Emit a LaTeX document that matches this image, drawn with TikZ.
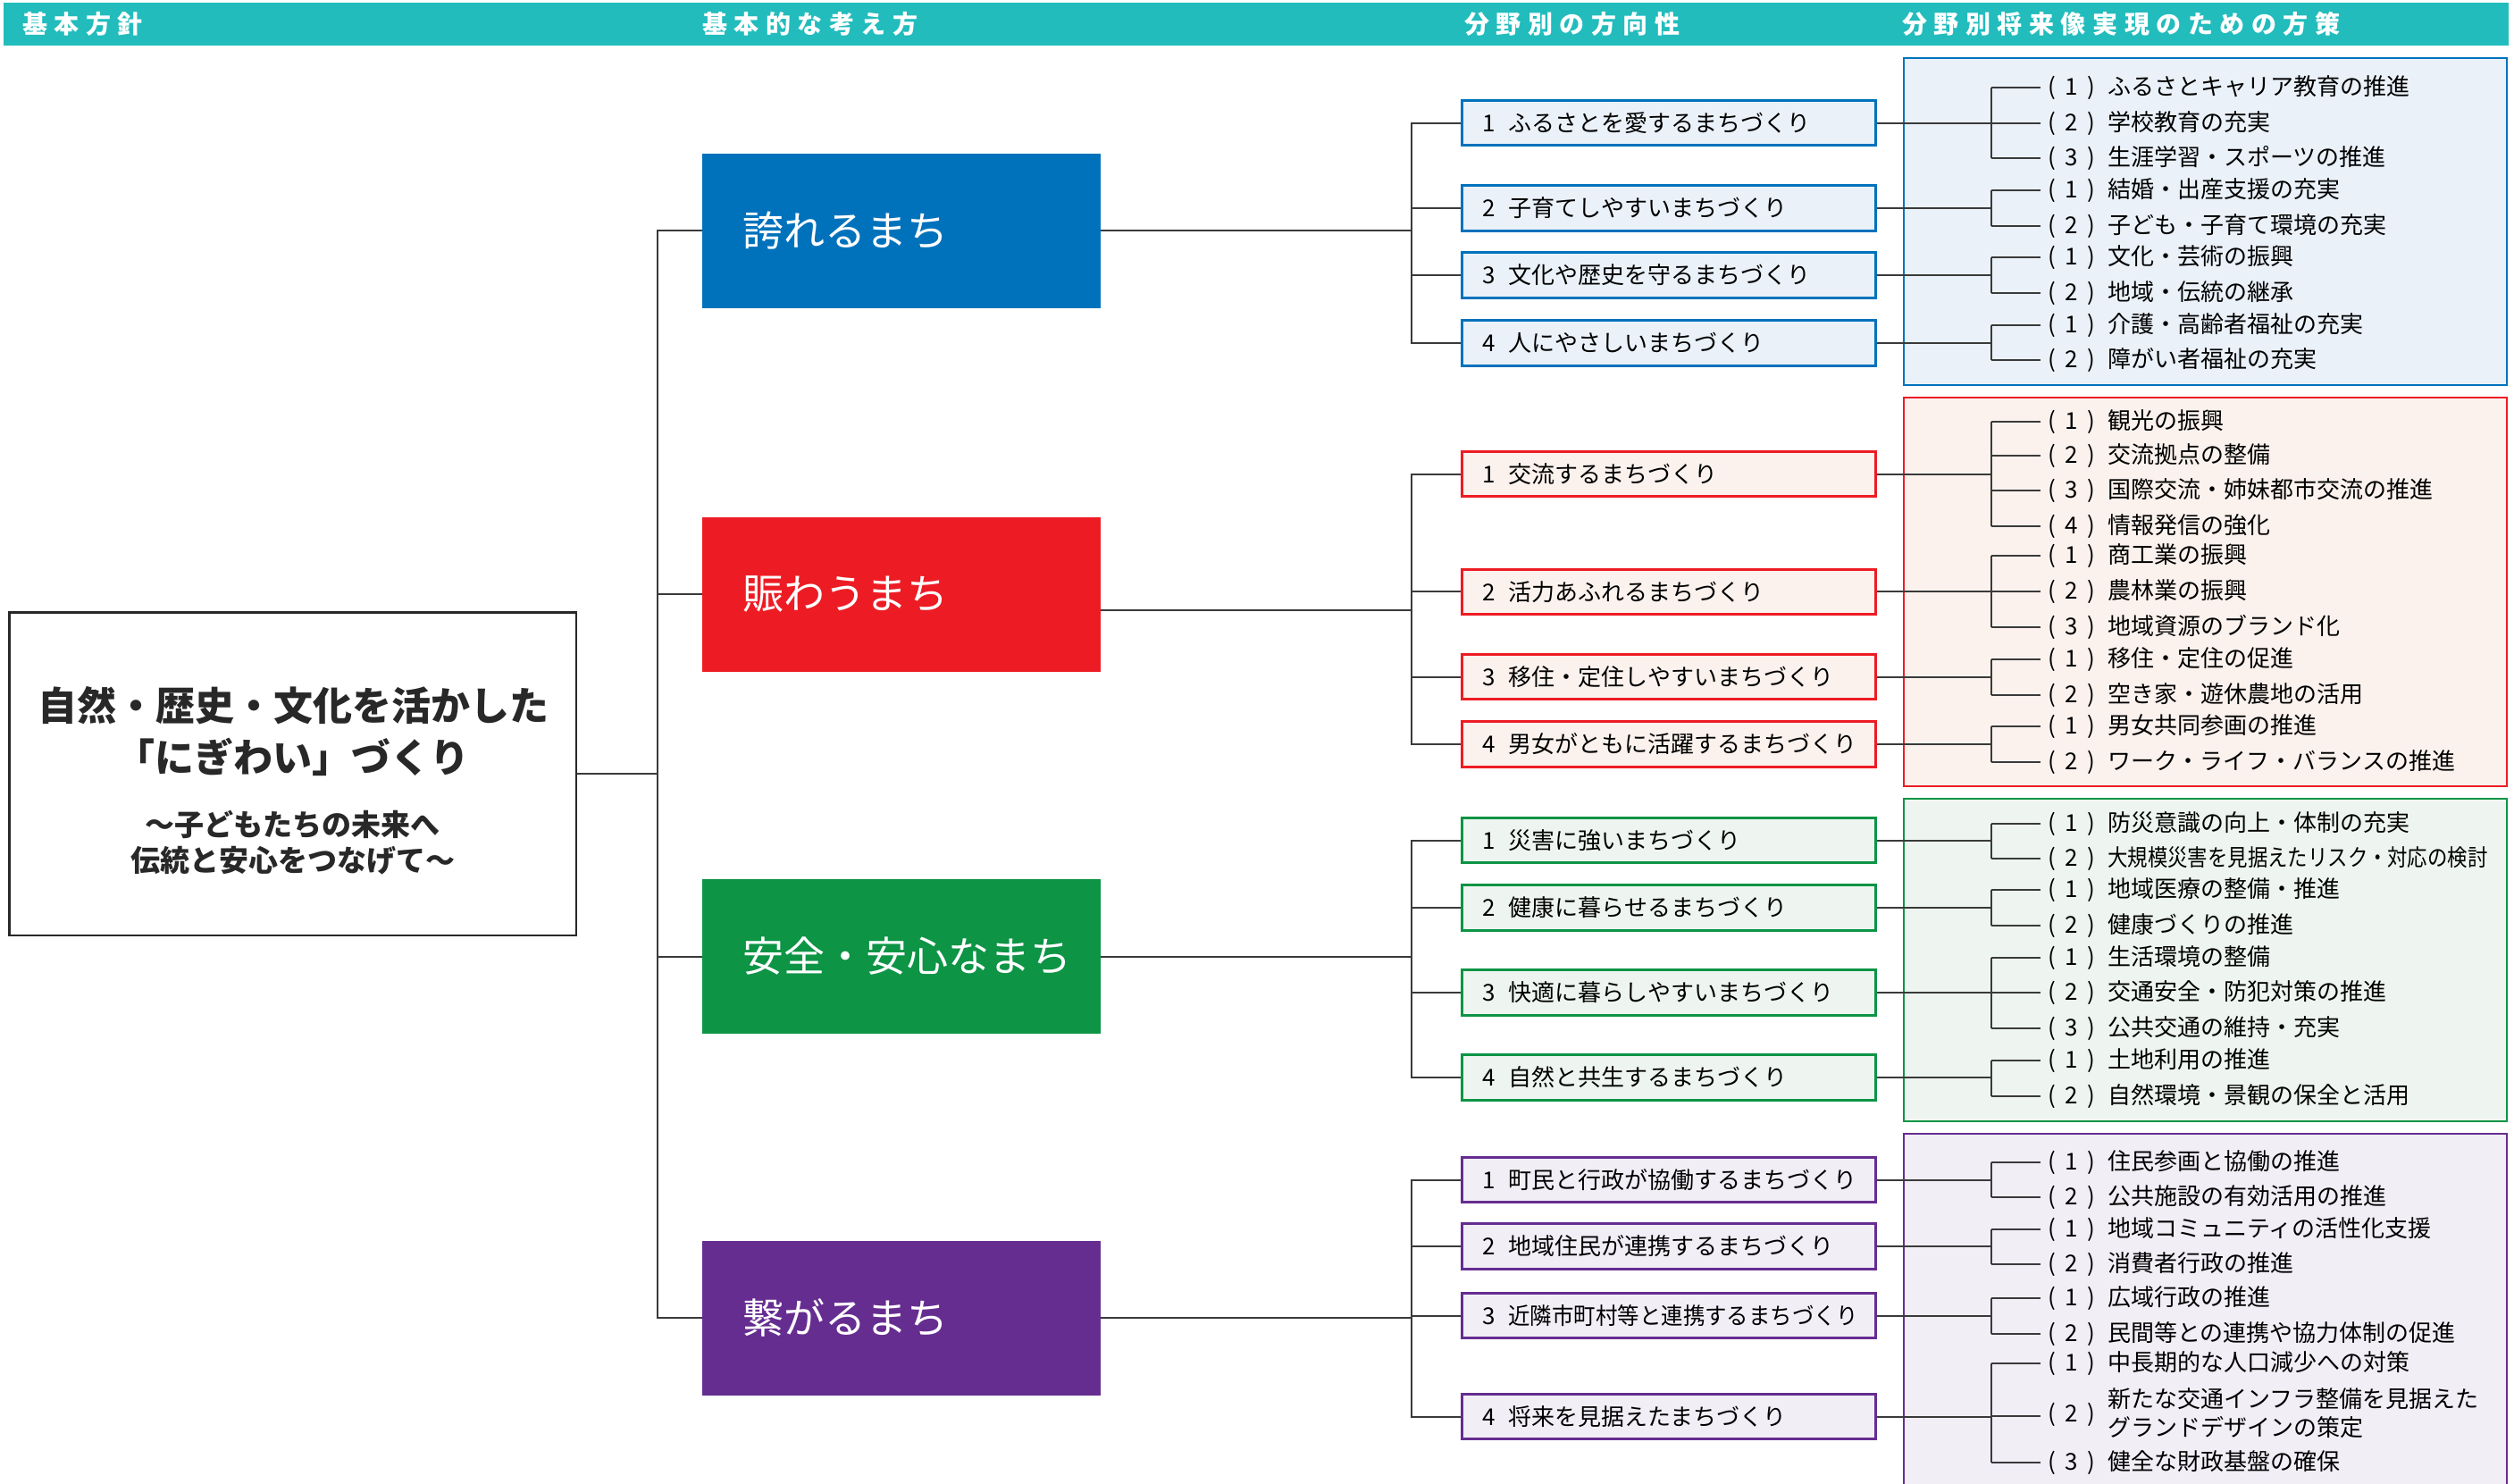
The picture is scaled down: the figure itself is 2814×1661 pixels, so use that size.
\documentclass[tikz,border=0pt]{standalone}
\usepackage{fontspec}
\setmainfont{Noto Sans CJK JP}
\newfontfamily\hdrfont[LetterSpace=27]{Noto Sans CJK JP}
\newcommand\pnum[1]{\makebox[67pt][l]{\makebox[53pt][s]{(\hfil#1\hfil)}}}
\newcommand\cnum[1]{\makebox[29.5pt][l]{#1}}
\definecolor{hdrc}{RGB}{34,188,189}
\definecolor{cB}{RGB}{0,114,188}
\definecolor{cBf}{RGB}{234,241,249}
\definecolor{cR}{RGB}{237,28,36}
\definecolor{cRf}{RGB}{251,242,238}
\definecolor{cG}{RGB}{13,148,69}
\definecolor{cGf}{RGB}{238,245,240}
\definecolor{cP}{RGB}{102,45,145}
\definecolor{cPf}{RGB}{241,238,246}
\definecolor{linec}{RGB}{58,58,58}
\definecolor{mainc}{RGB}{40,40,40}
\newcommand\mybrk[4]{%
  \draw[ln] (#1.east) -- (#1.east -| bx);
  \draw[ln] (#2.west -| bx) -- (#3.west -| bx);
  \foreach \k in {#4} {\draw[ln] (\k.west -| sx) -- (\k.west -| bx);}
}
\newcommand\myjn[4]{%
  \draw[ln] (#1.west) -| (jx |- #4.west) -- (#4.west);
  \draw[ln] (#2.west) -- (#2.west -| jx);
  \draw[ln] (#3.west) -- (#3.west -| jx);
}
\begin{document}
\begin{tikzpicture}[x=1pt,y=-1pt,
  ln/.style={draw=linec,line width=2pt},
  hdr/.style={anchor=west,inner sep=0pt,text=white,font=\hdrfont\bfseries\fontsize{28}{28}\selectfont},
  pnl/.style={draw=c#1,fill=c#1f,line width=2.5pt},
  big/.style={fill=c#1,minimum width=446pt,minimum height=173pt,inner xsep=45pt,inner ysep=0pt,text=white,font=\fontsize{46}{46}\selectfont},
  cat/.style={draw=c#1,fill=c#1f,line width=3pt,minimum height=50.5pt,inner xsep=22.5pt,inner ysep=0pt,anchor=west,font=\fontsize{26}{30}\selectfont},
  item/.style={anchor=west,inner sep=0pt,font=\fontsize{26}{30}\selectfont},
  ttl/.style={inner sep=0pt,font=\bfseries\fontsize{44}{44}\selectfont,text=mainc},
  sub/.style={inner sep=0pt,font=\bfseries\fontsize{33}{33}\selectfont,text=mainc}
]
\useasboundingbox (0,0) rectangle (2814,1661);
\clip (0,0) rectangle (2814,1661);
\fill[white] (0,0) rectangle (2814,1661);

% header
\fill[hdrc] (4,3) rectangle (2808,51);
\node[hdr] (h1) at (25,27) {基本方針};
\node[hdr] (h2) at (786,27) {基本的な考え方};
\node[hdr] (h3) at (1639,27) {分野別の方向性};
\node[hdr] (h4) at (2129,27) {分野別将来像実現のための方策};

% panels
\draw[pnl=B] (2131,65) rectangle (2806,431);
\draw[pnl=R] (2131,445) rectangle (2806,880);
\draw[pnl=G] (2131,894) rectangle (2806,1255);
\draw[pnl=P] (2131,1269) rectangle (2806,1720);

% main box
\node[draw=mainc,line width=2.5pt,minimum width=634.5pt,minimum height=361.5pt,inner sep=0pt] (main) at (327.5,866) {};
\node[ttl] (t1) at (328,790) {自然・歴史・文化を活かした};
\node[ttl] (t2) at (327.5,847) {「にぎわい」づくり};
\node[sub] (t3) at (327.5,923) {〜子どもたちの未来へ};
\node[sub] (t4) at (327.5,963) {伝統と安心をつなげて〜};

% big coloured boxes
\node[big=B] (pride) at (1009,258.5) {\makebox[356pt][l]{誇れるまち}};
\node[big=R] (nigi) at (1009,665) {\makebox[356pt][l]{賑わうまち}};
\node[big=G] (safe) at (1009,1070.5) {\makebox[356pt][l]{安全・安心なまち}};
\node[big=P] (tsuna) at (1009,1475) {\makebox[356pt][l]{繋がるまち}};

% category boxes
\node[cat=B] (b1) at (1635,137.7) {\makebox[418pt][l]{\cnum{1}ふるさとを愛するまちづくり}};
\node[cat=B] (b2) at (1635,233) {\makebox[418pt][l]{\cnum{2}子育てしやすいまちづくり}};
\node[cat=B] (b3) at (1635,308) {\makebox[418pt][l]{\cnum{3}文化や歴史を守るまちづくり}};
\node[cat=B] (b4) at (1635,384) {\makebox[418pt][l]{\cnum{4}人にやさしいまちづくり}};
\node[cat=R] (r1) at (1635,530.5) {\makebox[418pt][l]{\cnum{1}交流するまちづくり}};
\node[cat=R] (r2) at (1635,662.3) {\makebox[418pt][l]{\cnum{2}活力あふれるまちづくり}};
\node[cat=R] (r3) at (1635,757.5) {\makebox[418pt][l]{\cnum{3}移住・定住しやすいまちづくり}};
\node[cat=R] (r4) at (1635,833) {\makebox[418pt][l]{\cnum{4}男女がともに活躍するまちづくり}};
\node[cat=G] (g1) at (1635,940.5) {\makebox[418pt][l]{\cnum{1}災害に強いまちづくり}};
\node[cat=G] (g2) at (1635,1016) {\makebox[418pt][l]{\cnum{2}健康に暮らせるまちづくり}};
\node[cat=G] (g3) at (1635,1111) {\makebox[418pt][l]{\cnum{3}快適に暮らしやすいまちづくり}};
\node[cat=G] (g4) at (1635,1206) {\makebox[418pt][l]{\cnum{4}自然と共生するまちづくり}};
\node[cat=P] (p1) at (1635,1320.5) {\makebox[418pt][l]{\cnum{1}町民と行政が協働するまちづくり}};
\node[cat=P] (p2) at (1635,1395) {\makebox[418pt][l]{\cnum{2}地域住民が連携するまちづくり}};
\node[cat=P] (p3) at (1635,1472.5) {\makebox[418pt][l]{\cnum{3}\scalebox{0.94}[1]{近隣市町村等と連携するまちづくり}}};
\node[cat=P] (p4) at (1635,1585.5) {\makebox[418pt][l]{\cnum{4}将来を見据えたまちづくり}};

% items: blue
\node[item] (ib11) at (2292,98.3) {\pnum{1}ふるさとキャリア教育の推進};
\node[item] (ib12) at (2292,137.7) {\pnum{2}学校教育の充実};
\node[item] (ib13) at (2292,177.3) {\pnum{3}生涯学習・スポーツの推進};
\node[item] (ib21) at (2292,213.3) {\pnum{1}結婚・出産支援の充実};
\node[item] (ib22) at (2292,252.7) {\pnum{2}子ども・子育て環境の充実};
\node[item] (ib31) at (2292,288.3) {\pnum{1}文化・芸術の振興};
\node[item] (ib32) at (2292,327.7) {\pnum{2}地域・伝統の継承};
\node[item] (ib41) at (2292,364) {\pnum{1}介護・高齢者福祉の充実};
\node[item] (ib42) at (2292,403.3) {\pnum{2}障がい者福祉の充実};
% items: red
\node[item] (ir11) at (2292,471.7) {\pnum{1}観光の振興};
\node[item] (ir12) at (2292,510) {\pnum{2}交流拠点の整備};
\node[item] (ir13) at (2292,549) {\pnum{3}国際交流・姉妹都市交流の推進};
\node[item] (ir14) at (2292,588.7) {\pnum{4}情報発信の強化};
\node[item] (ir21) at (2292,622.3) {\pnum{1}商工業の振興};
\node[item] (ir22) at (2292,662) {\pnum{2}農林業の振興};
\node[item] (ir23) at (2292,702) {\pnum{3}地域資源のブランド化};
\node[item] (ir31) at (2292,738.3) {\pnum{1}移住・定住の促進};
\node[item] (ir32) at (2292,778) {\pnum{2}空き家・遊休農地の活用};
\node[item] (ir41) at (2292,813) {\pnum{1}男女共同参画の推進};
\node[item] (ir42) at (2292,852.7) {\pnum{2}ワーク・ライフ・バランスの推進};
% items: green
\node[item] (ig11) at (2292,921.7) {\pnum{1}防災意識の向上・体制の充実};
\node[item] (ig12) at (2292,961) {\pnum{2}\scalebox{0.862}[1]{大規模災害を見据えたリスク・対応の検討}};
\node[item] (ig21) at (2292,996) {\pnum{1}地域医療の整備・推進};
\node[item] (ig22) at (2292,1035.7) {\pnum{2}健康づくりの推進};
\node[item] (ig31) at (2292,1071.7) {\pnum{1}生活環境の整備};
\node[item] (ig32) at (2292,1111) {\pnum{2}交通安全・防犯対策の推進};
\node[item] (ig33) at (2292,1150.7) {\pnum{3}公共交通の維持・充実};
\node[item] (ig41) at (2292,1186.7) {\pnum{1}土地利用の推進};
\node[item] (ig42) at (2292,1226.7) {\pnum{2}自然環境・景観の保全と活用};
% items: purple
\node[item] (ip11) at (2292,1300.7) {\pnum{1}住民参画と協働の推進};
\node[item] (ip12) at (2292,1340.3) {\pnum{2}公共施設の有効活用の推進};
\node[item] (ip21) at (2292,1375.7) {\pnum{1}地域コミュニティの活性化支援};
\node[item] (ip22) at (2292,1415) {\pnum{2}消費者行政の推進};
\node[item] (ip31) at (2292,1453.3) {\pnum{1}広域行政の推進};
\node[item] (ip32) at (2292,1493.3) {\pnum{2}民間等との連携や協力体制の促進};
\node[item] (ip41) at (2292,1525.7) {\pnum{1}中長期的な人口減少への対策};
\node[item] (ip42) at (2292,1585) {\pnum{2}\begin{tabular}{@{}l@{}}新たな交通インフラ整備を見据えた\\グランドデザインの策定\end{tabular}};
\node[item] (ip43) at (2292,1636.7) {\pnum{3}健全な財政基盤の確保};

% connectors
\coordinate (tk) at (736,0);
\coordinate (jx) at (1580,0);
\coordinate (bx) at (2229,0);
\coordinate (sx) at (2284,0);
\coordinate (jR) at (1580,683);

\draw[ln] (main.east) -- (main.east -| tk);
\draw[ln] (pride.west) -| (tk |- tsuna.west) -- (tsuna.west);
\draw[ln] (nigi.west) -- (nigi.west -| tk);
\draw[ln] (safe.west) -- (safe.west -| tk);

\draw[ln] (pride.east) -- (pride.east -| jx);
\draw[ln] (jR -| nigi.east) -- (jR);
\draw[ln] (safe.east) -- (safe.east -| jx);
\draw[ln] (tsuna.east) -- (tsuna.east -| jx);

\myjn{b1}{b2}{b3}{b4}
\myjn{r1}{r2}{r3}{r4}
\myjn{g1}{g2}{g3}{g4}
\myjn{p1}{p2}{p3}{p4}

\mybrk{b1}{ib11}{ib13}{ib11,ib12,ib13}
\mybrk{b2}{ib21}{ib22}{ib21,ib22}
\mybrk{b3}{ib31}{ib32}{ib31,ib32}
\mybrk{b4}{ib41}{ib42}{ib41,ib42}
\mybrk{r1}{ir11}{ir14}{ir11,ir12,ir13,ir14}
\mybrk{r2}{ir21}{ir23}{ir21,ir22,ir23}
\mybrk{r3}{ir31}{ir32}{ir31,ir32}
\mybrk{r4}{ir41}{ir42}{ir41,ir42}
\mybrk{g1}{ig11}{ig12}{ig11,ig12}
\mybrk{g2}{ig21}{ig22}{ig21,ig22}
\mybrk{g3}{ig31}{ig33}{ig31,ig32,ig33}
\mybrk{g4}{ig41}{ig42}{ig41,ig42}
\mybrk{p1}{ip11}{ip12}{ip11,ip12}
\mybrk{p2}{ip21}{ip22}{ip21,ip22}
\mybrk{p3}{ip31}{ip32}{ip31,ip32}
\mybrk{p4}{ip41}{ip43}{ip41,ip42,ip43}
\end{tikzpicture}
\end{document}
